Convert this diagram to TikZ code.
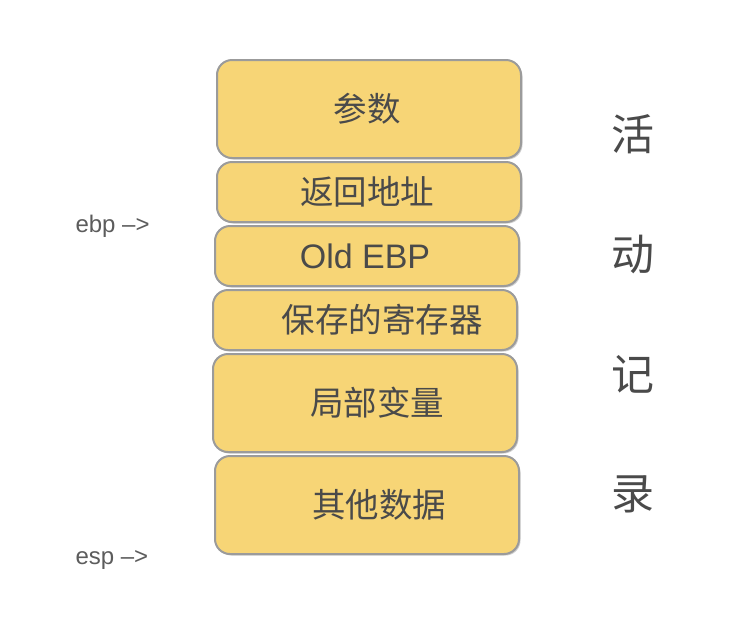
\documentclass[tikz,border=0pt]{standalone}
\usepackage{fontspec}
\setmainfont{Liberation Sans}
\newfontfamily\cjk{Noto Sans CJK SC}
\usetikzlibrary{shadows}
\definecolor{boxfill}{HTML}{F7D576}
\definecolor{boxline}{HTML}{9B9B9B}
\definecolor{ink}{HTML}{4A4A4A}
\tikzset{
  frame/.style={draw=boxline,line width=2pt,fill=boxfill,rounded corners=15pt,
    minimum width=304pt,inner sep=0pt,text=ink,
    drop shadow={shadow xshift=1.5pt,shadow yshift=-1.5pt,fill=black!40}},
  tall/.style={frame,minimum height=98pt},
  short/.style={frame,minimum height=60pt},
  side/.style={text=ink,font=\cjk\fontsize{43}{43}\selectfont},
  pointer/.style={anchor=west,text=ink!90,font=\fontsize{24}{24}\selectfont}
}
\begin{document}
\begin{tikzpicture}[x=1pt,y=-1pt]
  \useasboundingbox (0,0) rectangle (748,638);
  \begin{scope}[font=\cjk\fontsize{33.5}{33.5}\selectfont]
    \node[tall]  (args)   at (369,109) {\hspace*{-4pt}参数};
    \node[short] (ret)    at (369,192) {\hspace*{-4pt}返回地址};
    \node[short,font=\fontsize{34}{34}\selectfont] (oldebp) at (367,256) {\hspace*{-4pt}Old EBP};
    \node[short] (saved)  at (365,320) {\hspace*{34pt}保存的寄存器};
    \node[tall]  (locals) at (365,403) {\hspace*{24pt}局部变量};
    \node[tall]  (other)  at (367,505) {\hspace*{24pt}其他数据};
  \end{scope}
  % activation record, one character per line
  \foreach \c/\y [count=\i] in {活/134,动/254,记/374,录/494} {
    \node[side] (rec\i) at (633,\y) {\c};
  }
  \node[pointer] (ebp) at (72,226) {ebp –>};
  \node[pointer] (esp) at (72,560) {esp –>};
\end{tikzpicture}
\end{document}
